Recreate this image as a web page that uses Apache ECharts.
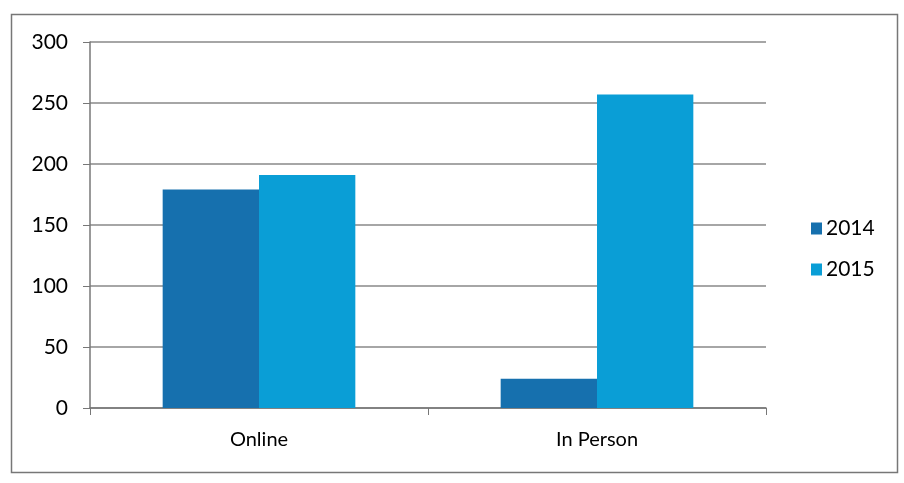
<!DOCTYPE html>
<html><head><meta charset="utf-8">
<script src="https://cdn.jsdelivr.net/npm/echarts@6/dist/echarts.min.js"></script>
<style>html,body{margin:0;padding:0;background:#fff}#c{width:904px;height:483px}</style>
</head><body><div id="c"></div>
<script>
const categories = ['Online', 'In Person'];
const series2014 = [179, 24];
const series2015 = [191, 257];
const yTicks = [0, 50, 100, 150, 200, 250, 300];

const chart = echarts.init(document.getElementById('c'));
const font = 'Lato, "Open Sans", sans-serif';
chart.setOption({
  backgroundColor: '#fff',
  animation: false,
  graphic: [{
    type: 'rect', left: 9, top: 12,
    shape: { width: 886, height: 458 },
    style: { fill: 'none', stroke: '#777', lineWidth: 1.5 }
  }],
  legend: {
    orient: 'vertical', left: 806, top: 213,
    itemWidth: 11, itemHeight: 12, itemGap: 20,
    icon: 'rect',
    textStyle: { fontFamily: font, fontSize: 21, color: '#000', padding: [0, 0, 0, -1] },
    data: ['2014', '2015']
  },
  grid: { left: 90, right: 138, top: 42, bottom: 75 },
  xAxis: {
    type: 'category', data: categories,
    axisLine: { lineStyle: { color: '#777', width: 1.5 } },
    axisTick: { show: true, length: 7, lineStyle: { color: '#777' } },
    axisLabel: { fontFamily: font, fontSize: 20, color: '#000', margin: 22 }
  },
  yAxis: {
    type: 'value', min: yTicks[0], max: yTicks[yTicks.length - 1], interval: 50,
    axisLine: { show: true, lineStyle: { color: '#777', width: 1.5 } },
    axisTick: { show: true, length: 7, lineStyle: { color: '#777' } },
    splitLine: { lineStyle: { color: '#888', width: 1.5 } },
    axisLabel: { fontFamily: font, fontSize: 21, color: '#000', margin: 22 }
  },
  series: [
    { name: '2014', type: 'bar', data: series2014, barGap: '0%', barCategoryGap: '43%',
      itemStyle: { color: '#1670AE' } },
    { name: '2015', type: 'bar', data: series2015,
      itemStyle: { color: '#0A9ED6' } }
  ]
});
</script></body></html>
